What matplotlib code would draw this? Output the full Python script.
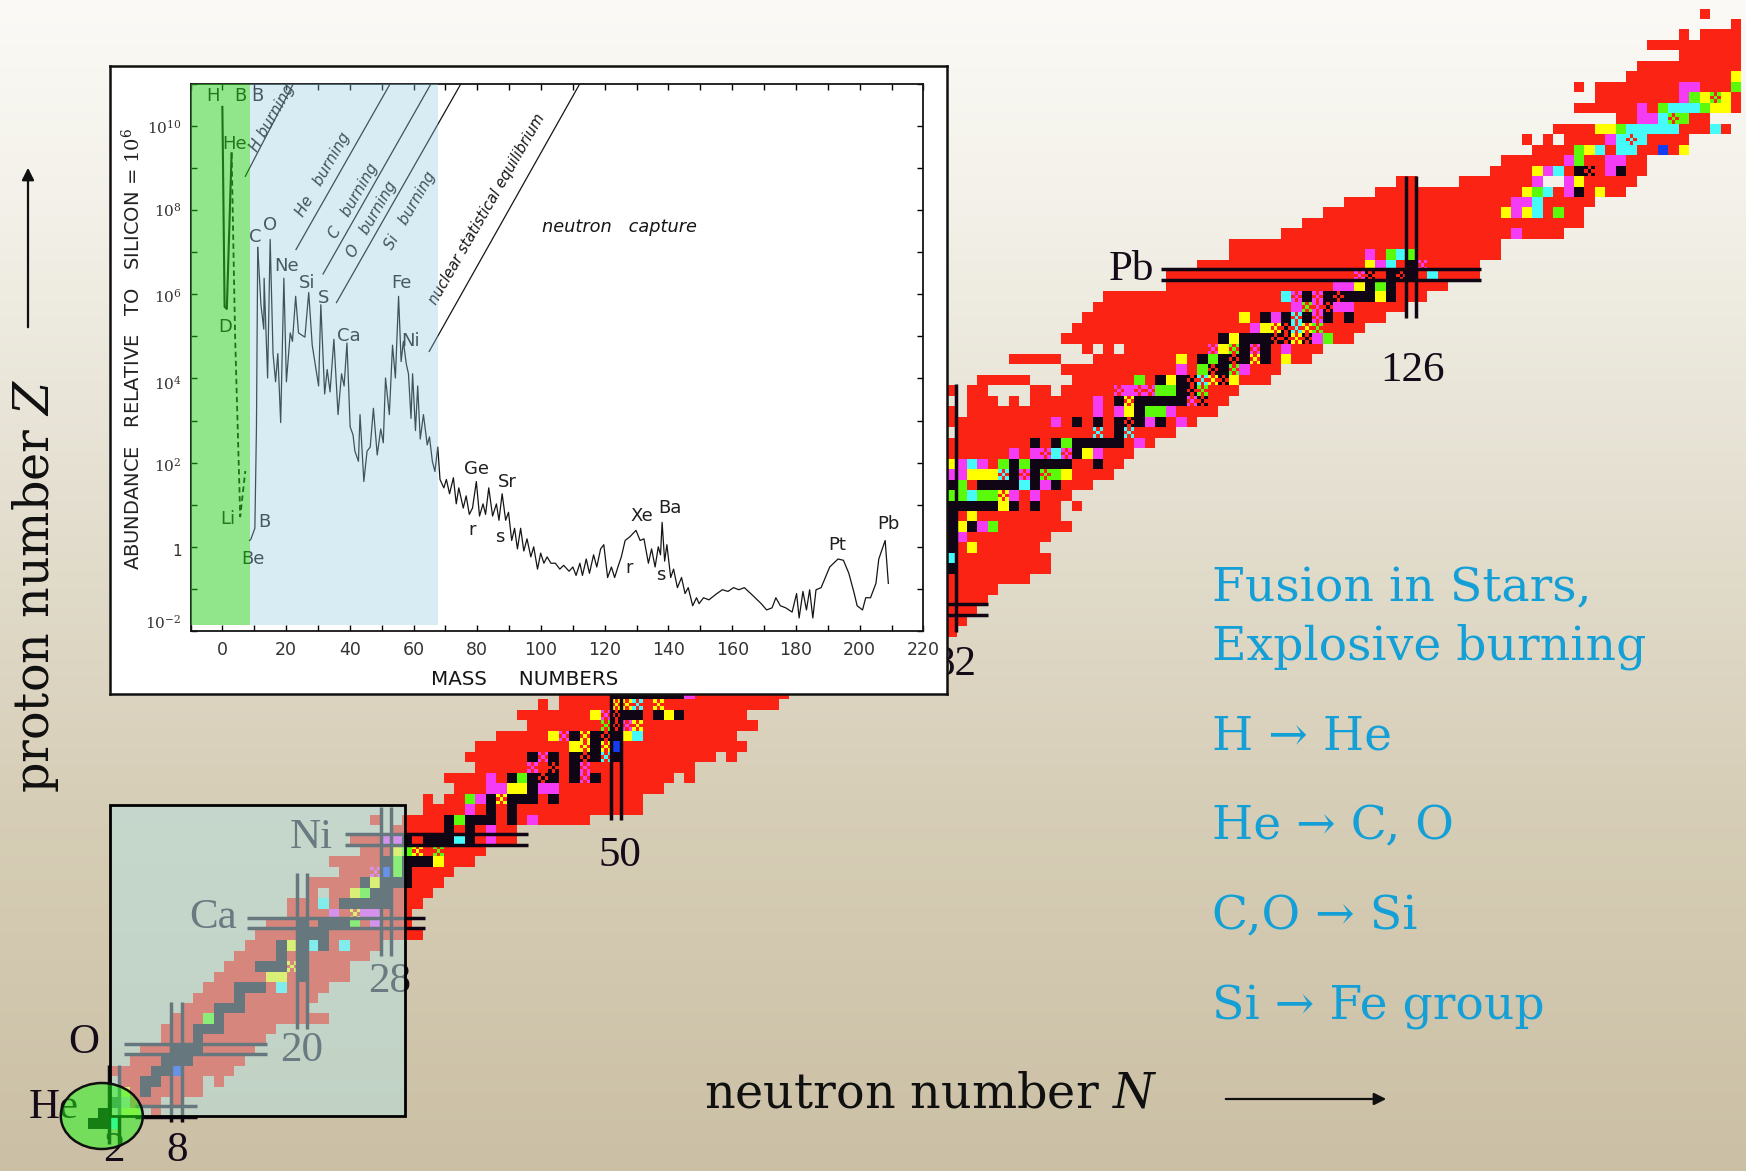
import re
import numpy as np
import matplotlib
matplotlib.use("Agg")
import matplotlib.pyplot as plt
from matplotlib.patches import Rectangle, Ellipse

plt.rcParams['mathtext.fontset'] = 'dejavuserif'

# ---------- nuclide chart: filled rows, Z -> "Nstart-Nend ..." ----------
RED_UPPER = {107:"154",106:"157",105:"152 154-157",104:"149-157",103:"152-157",102:"148-157",101:"147-157",
 100:"142 144-157",99:"144-157",98:"142-157",97:"146-154",96:"140-156",95:"137 139 141-152",94:"138-152",
 93:"135-148",92:"134-148",91:"125-126 131-138 141-147",90:"123-146",89:"120-143",88:"118-142",87:"116-142",
 86:"114-140",85:"109-134",84:"109-134",83:"106-132",82:"103-132",81:"103-129",80:"97-127",79:"96-125",
 78:"95-123",77:"94-121",76:"93-120",75:"95 97 99-117",74:"88-92 96-116",73:"93-113",72:"85-89 94-112"}
RED_MIDDLE = {71:"82 84-85 90-91 93-109",70:"84-86 88 90-108",69:"82 84-107",68:"82-105",67:"83-103",66:"82-101",
 65:"82-99",64:"82-98",63:"82-97",62:"82-95",61:"82-93",60:"82-92 94",59:"82-92",58:"82-93",57:"82-91",56:"82-90",
 55:"82-91",54:"82-91",53:"82-89",52:"82-86",51:"82-85",50:"82-84",49:"82-83",48:"82"}
RED_LOWER = {42:"45-66",41:"43 45-65",40:"41-62",39:"42-63",38:"39-61",37:"37-62",36:"36-59 61",35:"37-57",
 34:"34-55 57",33:"35-54",32:"32 34-52",31:"32-52",30:"27 30-47",29:"29-40",28:"25-40",27:"26-37",26:"23-36",
 25:"24-34",24:"21-33",23:"21 23-32",22:"19-31",21:"19-30",20:"17-30",19:"16-31",18:"15-27",17:"14-26",16:"13-24",
 15:"12-24",14:"11-22",13:"10-21",12:"9-20",11:"8-22",10:"7-17",9:"7-16",8:"5-15",7:"4-14",6:"2-13",5:"3-10 12",
 4:"4-10",3:"4-6 8",2:"6"}

# coloured cells: k black p pink y yellow g green c cyan b blue; capitals are dithered on red
CELLS_UPPER = {101:"157y",100:"152-153p 157g",99:"152p 153g 154y 155G 156y",98:"148p 150g 151-153c 154g 155-156y",
 97:"148-149p 150c 151G 152g",96:"144-145y 146g 147-151c 155c",95:"145p 146c 147C 148c",
 94:"142g 143y 144c 146-147c 150b 152y",93:"141p 142g 145-146p",92:"138y 139p 140c 142k 143K 145p 146k",
 91:"138p 141p 142y",90:"137y 138g 139c 141p 142k 144y",89:"136-137p 138c",88:"135y 136p 137y 138c 140g",86:"136p"}
CELLS_MIDDLE = {84:"122p 124g 125c 126g",83:"122y 123p 124c 126k 127P",82:"121P 122K 124k 125K 126k 128c",
 81:"119-120p 121y 122k 123g 124k",80:"114c 115P 116k 117P 118k 119K 120-122k 123y 124k",
 79:"115p 116G 117P 118K 119-120p",78:"110y 112k 113p 114k 115C 116k 117P 118k 120k",
 77:"111p 112y 113Y 114K 115C 116Y 117G",76:"108k 109y 110-112k 113-114K 115Y 116K 117p 118g",
 75:"107P 108y 109G 110k 111P 112k 114p",74:"104y 106k 107g 108k 109K 110k 111Y 112k 114y",
 73:"104p 106g 107K 108k 109G 110p",72:"100g 102k 103y 104k 105K 106C 107Y 108K 109y",
 71:"98P 99p 100-101P 102-103g 104k 105K 106G",70:"96p 98k 99Y 100-104k 105P 106K",
 69:"96p 98p 99y 100k 101-102g 103p",68:"92p 94k 96k 98k 99K 100k 101p 102k 104p",67:"96C 98k 99C",
 66:"90k 92k 93g 94-98k 100p",65:"88p 90p 91P 92c 93P 94k 95y 96p",
 64:"82y 83p 84c 85p 87g 88k 89g 90-93k 96k",63:"82p 83p 84-86y 87C 88k 89P 90k 91G 92g 93y",
 62:"82k 83g 85-88k 89c 90k 91p 92k",61:"82g 83g 84c 85-86g 87Y 88p 90p",60:"82-86k 87y 88k 90k",59:"82k 84y",
 58:"82k 83y 84k 85p 86g",57:"82k 83p",56:"82k 84y",55:"82c",54:"82k"}
CELLS_LOWER = {42:"50-56k 57p",41:"50Y 51Y 52C 54Y",40:"48y 49P 50K 51-52k 54k 55y 56k",39:"49G 50K 51P 52Y",
 38:"44y 45P 46k 47Y 48k 49K 50k 51y 52c",37:"46y 47Y 48k 49Y 50b",36:"42k 43P 44k 46k 47K 48k 49C 50k",
 35:"42P 44K 46k 47P",34:"38p 40k 41g 42k 43K 44k 46k 47P 48k",33:"38-39p 40-41y 42k 43-44p",
 32:"36g 37p 38k 39Y 40-42k 44k",31:"36p 38k 40k",30:"34k 35g 36-38k 40k 42p",29:"34k 36k 38p",
 28:"28-29p 30k 32-34k 35c 36k 38p",27:"29y 30g 31Y 33G",26:"28k 29g 30-32k 33y",25:"27P 28b 29g 30k",
 24:"26k 27y 28-30k",23:"25y 26g 27-28k",22:"22c 24-28k",21:"23p 25Y 26-27p",20:"20k 22-24k 25g 27p",19:"20-22k",
 18:"18k 19y 20k 21c 22k 24c",17:"18k 20k",16:"16-18k 19Y 20k",15:"17-18y 20k",14:"14-16k 18c",13:"14k",12:"12-14k",
 11:"11g 12k",10:"10-12k",9:"10k",8:"8-10k",7:"7-9k",6:"6-7k 8b",5:"5-6k",4:"3y 5k",3:"2k",2:"1k 3-4y",1:"0-1k 2c"}
HOLE_CELLS = {23:"22"}

MAGIC_N = [2, 8, 20, 28, 50, 82, 126]
MAGIC_N_FROM = [-1.0, 1.1, 10.0, 17.0, 30.0, 48.0, 78.0]
MAGIC_N_TO = [6.6, 12.6, 25.0, 31.3, 45.0, 71.7, 91.6]
MAGIC_Z = [2, 8, 20, 28, 50, 82]
MAGIC_Z_FROM = [4.0, 3.0, 14.7, 24.1, 75.0, 102.1]
MAGIC_Z_TO = [9.9, 16.6, 31.7, 41.6, 85.6, 132.7]

# ---------- abundance curve: mass number, log10 abundance ----------
H_MASS = [0.0, 0.7, 1.4, 2.9]
H_LOG = [10.45, 5.7, 5.65, 9.35]
LI_MASS = [2.9, 4.0, 5.6, 7.2]
LI_LOG = [9.35, 5.0, 0.72, 1.8]
BE_MASS = [8.5, 8.9, 10.2, 10.7, 11.1]
BE_LOG = [0.15, 0.17, 0.44, 2.85, 7.11]
MASS = [11.1,12.1,13.0,13.1,14.2,15.0,15.9,16.7,17.4,18.3,19.3,20.1,21.3,22.0,23.0,23.9,25.9,27.1,28.2,29.4,30.2,30.9,
 32.1,32.9,33.8,35.0,36.3,37.4,38.2,39.1,40.1,41.0,41.6,42.7,43.2,44.4,45.4,46.4,47.4,48.6,49.7,50.5,51.2,52.4,53.4,
 54.3,55.3,56.1,56.8,57.7,58.4,59.2,59.7,60.6,61.3,62.1,63.1,64.3,65.0,65.9,66.7,67.6,68.3,69.5,70.3,71.3,72.5,73.4,
 74.2,75.6,76.5,77.5,78.5,79.7,80.7,81.8,82.6,83.6,84.8,86.0,86.8,87.8,88.9,89.8,90.8,91.7,92.6,93.6,94.6,95.6,96.8,
 97.7,98.9,99.9,100.9,101.9,103.1,104.5,105.9,107.1,108.8,110.0,111.0,112.2,113.0,114.2,115.2,116.5,117.5,118.7,
 119.7,120.9,122.1,123.1,124.3,125.2,126.4,127.9,129.8,131.1,132.3,133.7,134.7,135.8,136.8,137.5,138.0,138.8,139.5,
 140.7,141.6,142.8,144.1,145.2,146.2,147.6,148.8,149.6,151.0,152.7,155.2,156.9,158.7,160.4,162.1,163.8,166.5,169.1,
 170.8,172.5,173.7,175.1,176.8,178.8,180.2,181.0,182.2,183.3,184.3,185.3,186.3,187.9,190.6,193.2,194.9,196.6,198.3,
 199.2,200.9,201.9,203.4,205.1,206.0,208.0,209.0]
LOG_ABUND = [7.11,5.75,5.17,6.38,4.01,7.30,4.59,3.92,4.59,2.95,6.38,3.92,5.08,4.88,5.95,5.08,4.98,6.04,4.79,4.21,3.82,5.75,
 3.63,4.21,3.68,4.93,3.14,4.11,3.82,4.84,2.85,2.66,2.27,2.03,3.14,1.55,2.27,2.37,3.29,2.18,2.80,2.47,4.01,3.14,4.79,
 4.01,5.95,4.40,4.88,4.35,4.11,3.05,4.11,2.76,3.82,2.56,3.14,2.42,2.61,2.03,1.79,2.37,1.60,1.40,1.60,1.26,1.64,1.02,
 1.40,0.92,1.21,0.77,0.92,1.55,0.73,1.02,0.77,1.40,0.73,1.02,0.63,1.26,0.63,0.82,0.15,0.44,-0.05,0.44,-0.10,0.19,-0.24,
 0.0,-0.53,-0.15,-0.39,-0.24,-0.39,-0.39,-0.53,-0.44,-0.58,-0.48,-0.68,-0.39,-0.68,-0.29,-0.63,-0.19,-0.48,-0.05,
 0.05,-0.73,-0.48,-0.73,-0.44,-0.24,0.15,0.24,0.39,0.15,0.19,-0.39,-0.05,-0.48,0.0,-0.19,0.58,-0.34,0.05,
 -0.73,-0.53,-0.97,-0.73,-1.11,-0.97,-1.40,-1.21,-1.35,-1.21,-1.26,-1.11,-1.02,-1.06,-0.97,-1.02,-0.97,-1.16,-1.35,
 -1.50,-1.45,-1.21,-1.40,-1.45,-1.55,-1.11,-1.69,-1.06,-1.50,-1.02,-1.69,-1.02,-0.97,-0.48,-0.29,-0.32,-0.63,-1.11,
 -1.40,-1.50,-1.21,-1.21,-0.87,-0.29,0.15,-0.87]

ELEMENTS = ["H","B","B","He","D","Li","B","Be","C","O","Ne","Si","S","Ca","Fe","Ni","Ge","Sr","r","s","Xe","Ba","r","s","Pt","Pb"]
ELEMENT_MASS = [-2.9,5.5,10.9,3.9,0.85,1.7,13.1,9.7,10.4,15.0,20.3,26.6,31.9,39.6,56.3,59.0,79.7,89.4,78.3,87.2,131.7,140.4,127.6,137.5,192.8,209.1]
ELEMENT_LOG = [10.7,10.7,10.7,9.57,5.22,0.65,0.58,-0.29,7.35,7.64,6.67,6.27,5.9,5.01,6.27,4.88,1.84,1.53,0.39,0.24,0.73,0.92,-0.51,-0.66,0.05,0.53]

BURN_LINE_M0 = [7.2, 23.1, 31.6, 35.8, 64.9]
BURN_LINE_L0 = [8.80, 7.06, 6.48, 5.80, 4.64]
BURN_LINE_M1 = [22.2, 52.6, 65.4, 74.8, 112.1]
BURN_LINE_L1 = [10.99, 10.99, 10.99, 10.99, 10.99]
BURN_LABELS = ["H burning", "He   burning", "C   burning", "O   burning", "Si   burning", "nuclear statistical equilibrium"]
BURN_LABEL_M = [15.7, 31.6, 41.0, 47.0, 59.0, 83.0]
BURN_LABEL_L = [10.2, 8.85, 8.22, 7.78, 7.98, 8.03]

FUSION_LINES = ["Fusion in Stars,", "Explosive burning", "H \u2192 He", "He \u2192 C, O", "C,O \u2192 Si", "Si \u2192 Fe group"]
MAGIC_TEXT = ["Pb","126","50","82","Ni","Ca","28","20","O","He","8","2"]

W, H = 1746, 1171
fig = plt.figure(figsize=(W/100, H/100), dpi=100)

def axes_px(x0, y0, x1, y1, **kw):
    return fig.add_axes([x0/W, 1-y1/H, (x1-x0)/W, (y1-y0)/H], **kw)

# background
bg = axes_px(0, 0, W, H, zorder=0)
stops_y = [0, 200, 500, 800, 1171]
stops = np.array([[251,250,246],[243,241,233],[228,223,208],[215,206,183],[203,192,165]], float)
grad = np.stack([np.interp(np.arange(H), stops_y, stops[:, i]) for i in range(3)], axis=1)[:, None, :]/255
bg.imshow(grad, aspect='auto', extent=[0, 1, 0, 1])
bg.axis('off')

# nuclide chart
CELL, X0, Y0 = 10.46, 93.0, 1134.0
nc = axes_px(0, 0, W, H, zorder=1)
nc.patch.set_alpha(0)
nc.axis('off')

COLORS = {'r':(250,35,20),'k':(15,5,20),'p':(245,60,245),'y':(255,255,0),'g':(90,250,10),'c':(70,250,250),'b':(20,60,240)}
SUB = 3
Nmin, Nmax, Zmin, Zmax = -2, 158, -2, 108
img = np.zeros(((Zmax-Zmin+1)*SUB, (Nmax-Nmin+1)*SUB, 4), dtype=np.uint8)

def paint(n, z, code):
    i0, j0 = (z-Zmin)*SUB, (n-Nmin)*SUB
    if code.islower():
        img[i0:i0+SUB, j0:j0+SUB] = (*COLORS[code], 255)
    else:
        img[i0:i0+SUB, j0:j0+SUB] = (*COLORS['r'], 255)
        for a, b in [(0,0),(0,2),(1,1),(2,0),(2,2)]:
            img[i0+a, j0+b] = (*COLORS[code.lower()], 255)

for rows in (RED_UPPER, RED_MIDDLE, RED_LOWER):
    for z, spec in rows.items():
        for part in spec.split():
            a, _, b = part.partition('-')
            for n in range(int(a), int(b or a)+1):
                paint(n, z, 'r')
for rows in (CELLS_UPPER, CELLS_MIDDLE, CELLS_LOWER):
    for z, spec in rows.items():
        for part in spec.split():
            m = re.match(r"(\d+)(?:-(\d+))?([a-zA-Z])", part)
            for n in range(int(m[1]), int(m[2] or m[1])+1):
                paint(n, z, m[3])
for z, spec in HOLE_CELLS.items():
    n = int(spec)
    img[(z-Zmin)*SUB:(z-Zmin+1)*SUB, (n-Nmin)*SUB:(n-Nmin+1)*SUB] = 0

nc.imshow(img, origin='lower', interpolation='nearest', aspect='auto',
          extent=[Nmin-.5, Nmax+.5, Zmin-.5, Zmax+.5])
nc.set_xlim(-X0/CELL, (W-X0)/CELL)
nc.set_ylim((Y0-H)/CELL, Y0/CELL)
for m, a, b in zip(MAGIC_N, MAGIC_N_FROM, MAGIC_N_TO):
    for d in (-.5, .5):
        nc.plot([m+d, m+d], [a, b], color='#0f0514', lw=2.5, solid_capstyle='butt')
for m, a, b in zip(MAGIC_Z, MAGIC_Z_FROM, MAGIC_Z_TO):
    for d in (-.5, .5):
        nc.plot([a, b], [m+d+.15, m+d+.15], color='#0f0514', lw=2.5, solid_capstyle='butt')

# pixel overlay
ov = axes_px(0, 0, W, H, zorder=2)
ov.patch.set_alpha(0)
ov.set_xlim(0, W)
ov.set_ylim(H, 0)
ov.axis('off')

lab_pos = [(1131,270),(1412,371),(620,856),(955,665),(311,838),(213,918),(390,982),(302,1051),(84,1043),(54,1108),(177,1151),(114,1151)]
for s, (x, y) in zip(MAGIC_TEXT, lab_pos):
    ov.text(x, y, s, family='Liberation Serif', fontsize=31, color='#150a18', ha='center', va='center', zorder=1)

ov.add_patch(Rectangle((110, 805), 295, 311, fc=(183/255, 226/255, 225/255, .52), ec='black', lw=2, zorder=2))
ov.add_patch(Ellipse((101.8, 1116), 82, 66, fc=(30/255, 250/255, 20/255, .5), ec='#101010', lw=1.8, zorder=3))

blue = '#14a0d7'
for s, y in zip(FUSION_LINES, [601, 660, 750, 839, 929, 1019]):
    ov.text(1212, y, s, family='DejaVu Serif', fontsize=34, color=blue, ha='left', va='baseline', zorder=4)
ov.text(704, 1108, r"neutron number $\mathit{N}$", family='DejaVu Serif', fontsize=34.3, color='#101010', ha='left', va='baseline', zorder=4)
ov.text(36, 586, r"proton number $\mathit{Z}$", family='DejaVu Serif', fontsize=34.3, color='#101010', rotation=90, ha='center', va='center', zorder=4)
ov.annotate('', xy=(1389, 1099), xytext=(1223, 1099), arrowprops=dict(arrowstyle='-|>', color='#101010', lw=1.6, mutation_scale=18), zorder=4)
ov.annotate('', xy=(28, 165), xytext=(28, 330), arrowprops=dict(arrowstyle='-|>', color='#101010', lw=1.6, mutation_scale=18), zorder=4)

# inset
box = axes_px(110, 66, 947, 694, zorder=5)
box.set_xticks([]); box.set_yticks([])
box.set_facecolor('white')
for s in box.spines.values():
    s.set_linewidth(1.8); s.set_color('#101010')

ax = axes_px(190.5, 83.7, 923.4, 631, zorder=6)
ax.patch.set_alpha(0)
ax.set_xlim(-10, 220)
ax.set_yscale('log')
ax.set_ylim(1e-2, 1e11)
INK = '#151515'
ax.plot(H_MASS, 10.0**np.array(H_LOG), color=INK, lw=1.5)
ax.plot(LI_MASS, 10.0**np.array(LI_LOG), color=INK, lw=1.3, ls=(0, (3, 2)))
ax.plot(BE_MASS, 10.0**np.array(BE_LOG), color=INK, lw=0.9)
ax.plot(MASS, 10.0**np.array(LOG_ABUND), color=INK, lw=0.9)

for s, a, l in zip(ELEMENTS, ELEMENT_MASS, ELEMENT_LOG):
    ax.text(a, 10.0**l, s, fontsize=13, family='DejaVu Sans', color='#202020', ha='center', va='center')
for a, l, a2, l2 in zip(BURN_LINE_M0, BURN_LINE_L0, BURN_LINE_M1, BURN_LINE_L1):
    ax.plot([a, a2], [10.0**l, 10.0**l2], color=INK, lw=0.9)
for i, (s, a, l) in enumerate(zip(BURN_LABELS, BURN_LABEL_M, BURN_LABEL_L)):
    ax.text(a, 10.0**l, s, fontsize=11 if i < 5 else 10.5, style='italic', color='#151515',
            rotation=60, rotation_mode='anchor', ha='center', va='center')
ax.text(124.5, 10.0**7.59, "neutron   capture", fontsize=12.8, style='italic', color='#151515', ha='center', va='center')

ax.axvspan(-10, 8.6, ymin=0.011, ymax=1, color=(37/255, 205/255, 25/255), alpha=.5, lw=0, zorder=5)
ax.axvspan(8.6, 67.6, ymin=0.011, ymax=1, color=(144/255, 201/255, 221/255), alpha=.35, lw=0, zorder=5)

ax.set_xticks(np.arange(0, 221, 20))
ax.tick_params(axis='x', which='both', direction='in', length=4, width=1, top=True, bottom=True, labelsize=12.5, labelcolor='#333333', pad=7)
ax.set_yticks(10.0**np.arange(-2, 12))
ax.minorticks_off()
ax.set_xticks(np.arange(-10, 220, 10), minor=True)
ax.tick_params(axis='x', which='minor', direction='in', length=4, width=1, top=True, bottom=True)
ax.set_yticklabels([])
ax.tick_params(axis='y', which='major', direction='in', length=4, width=1, left=True, right=True, labelleft=False)
YT_POS = [10**-1.8, 10**-0.1, 10**1.93, 10**3.88, 10**5.95, 10**7.98, 10**9.95]
for v, s in zip(YT_POS, [r"$10^{-2}$", "1", r"$10^{2}$", r"$10^{4}$", r"$10^{6}$", r"$10^{8}$", r"$10^{10}$"]):
    ax.text(-0.012, v, s, transform=ax.get_yaxis_transform(), fontsize=11, color='#333333', ha='right', va='center')
for s in ax.spines.values():
    s.set_linewidth(1.3); s.set_color('#151515')

ax.text(-0.08, 0.515, "ABUNDANCE   RELATIVE   TO   SILICON = $10^{6}$", transform=ax.transAxes, rotation=90,
        fontsize=14, color='#222222', ha='center', va='center')
ax.text(0.456, -0.089, "MASS     NUMBERS", transform=ax.transAxes, fontsize=14.3, color='#151515', ha='center', va='center')

fig.savefig("out.png", dpi=100)
